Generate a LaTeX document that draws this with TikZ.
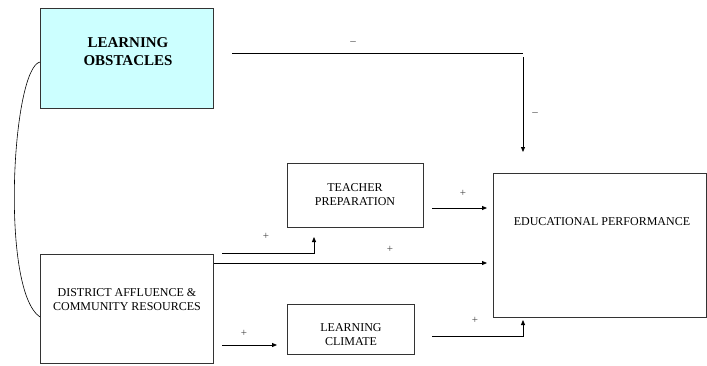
\documentclass[tikz,border=0pt]{standalone}
\usepackage{fontspec}
\setmainfont{Liberation Serif}
\usetikzlibrary{arrows.meta}
\definecolor{obstfill}{HTML}{CCFFFF}
\definecolor{boxline}{HTML}{333333}
\begin{document}
\begin{tikzpicture}[x=1pt,y=-1pt,
  box/.style={draw=boxline, line width=0.8pt, anchor=north west, inner sep=0pt},
  boxtext/.style={align=center, font=\fontsize{12}{14}\selectfont, inner sep=0pt},
  sign/.style={font=\fontsize{11}{12}\selectfont, text=black!75, inner sep=0pt},
  link/.style={line width=0.8pt},
  arrow/.style={link, -{Triangle[length=5pt,width=4pt]}}]
\useasboundingbox (0,0) rectangle (707,365);

% boxes
\node[box, fill=obstfill, minimum width=173pt, minimum height=100pt] (obst) at (40,8) {};
\node[box, minimum width=136pt, minimum height=64pt] (teach) at (287,163) {};
\node[box, minimum width=213pt, minimum height=144pt] (edu) at (493,173) {};
\node[box, minimum width=173pt, minimum height=109pt] (dist) at (40,254) {};
\node[box, minimum width=127pt, minimum height=50pt] (clim) at (287,304) {};

% box texts
\node[boxtext, font=\fontsize{15}{18}\selectfont\bfseries] (obsttxt) at (128,52) {LEARNING\\OBSTACLES};
\node[boxtext] (teachtxt) at (355,195) {TEACHER\\PREPARATION};
\node[boxtext] (edutxt) at (602,222) {EDUCATIONAL PERFORMANCE};
\node[boxtext] (disttxt) at (127,300) {DISTRICT AFFLUENCE \&\\COMMUNITY RESOURCES};
\node[boxtext] (climtxt) at (351,335) {LEARNING\\CLIMATE};

% connector end points
\coordinate (o1) at (232,53);
\coordinate (o2) at (523,53);
\coordinate (o3) at (523,57);
\coordinate (o4) at (523,152);
\coordinate (t1) at (432,208);
\coordinate (t2) at (487,208);
\coordinate (d1) at (dist.north east |- 0,263);
\coordinate (d2) at (487,263);
\coordinate (dt1) at (222,253);
\coordinate (dt2) at (314,253);
\coordinate (dt3) at (314,237);
\coordinate (dc1) at (222,345);
\coordinate (dc2) at (277,345);
\coordinate (c1) at (432,336);
\coordinate (c2) at (523,336);
\coordinate (c3) at (523,320);

% connectors
\draw[link] (o1) -- (o2);
\draw[arrow] (o3) -- (o4);
\draw[arrow] (t1) -- (t2);
\draw[arrow] (d1) -- (d2);
\draw[arrow] (dt1) -- (dt2) -- (dt3);
\draw[arrow] (dc1) -- (dc2);
\draw[arrow] (c1) -- (c2) -- (c3);

% correlation between the two exogenous factors
\draw[line width=0.6pt] (obst.west |- 0,62) .. controls (12,68) and (0,290) .. (dist.west |- 0,317);

% signs
\node[sign] (s1) at (353,43) {–};
\node[sign] (s2) at (535,114) {–};
\node[sign] (s3) at (463,193) {+};
\node[sign] (s4) at (390,249) {+};
\node[sign] (s5) at (266,236) {+};
\node[sign] (s6) at (244,333) {+};
\node[sign] (s7) at (475,320) {+};
\end{tikzpicture}
\end{document}
